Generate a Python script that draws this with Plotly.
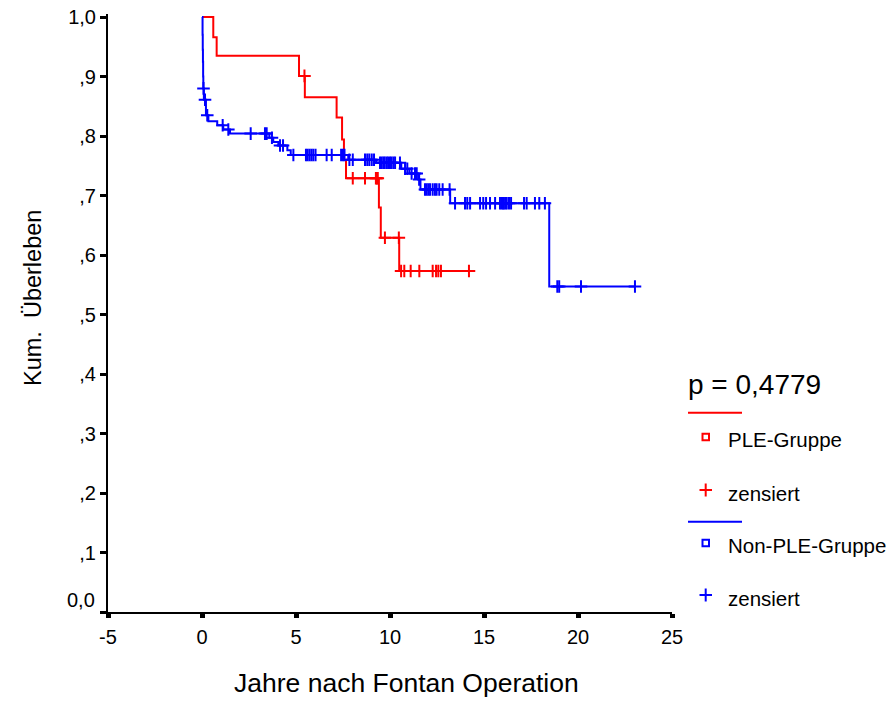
import numpy as np
import plotly.graph_objects as go

# ---------------- data ----------------
# PLE-Gruppe: Kaplan-Meier step function (time in years, cumulative survival)
ple_times = [0.0, 0.60, 0.78, 5.16, 5.47, 7.16, 7.45, 7.55, 7.66, 9.41, 9.51, 10.49]
ple_surv = [1.0, 0.966, 0.935, 0.901, 0.865, 0.831, 0.794, 0.760, 0.729, 0.680, 0.629, 0.573]
ple_censored = [5.45, 8.02, 8.67, 9.25, 9.30, 9.35, 9.73, 10.47, 10.59, 10.76, 11.10,
                11.56, 12.27, 12.45, 12.57, 12.71, 14.20]

# Non-PLE-Gruppe
non_times = [0.0, 0.03, 0.04, 0.05, 0.06, 0.07, 0.10, 0.21, 0.34, 0.81, 1.13, 1.49,
             3.58, 3.79, 4.06, 4.54, 4.72, 7.78, 9.26, 10.60, 11.03, 11.50, 11.62,
             13.20, 18.47]
non_surv = [1.0, 0.970, 0.945, 0.925, 0.900, 0.880, 0.861, 0.835, 0.825, 0.818, 0.811,
            0.804, 0.797, 0.790, 0.784, 0.776, 0.768, 0.760, 0.755, 0.745, 0.737, 0.727,
            0.710, 0.687, 0.547]
non_censored = [0.08, 0.16, 0.28, 1.10, 1.40, 2.59, 3.35, 3.44, 3.72, 4.15, 4.31, 4.86,
                5.53, 5.62, 5.72, 5.82, 5.92, 6.04, 6.63, 6.90, 7.40, 7.50, 7.58, 7.84,
                8.02, 8.67, 8.79, 8.90, 9.03, 9.15, 9.47, 9.56, 9.65, 9.72, 9.82, 9.90,
                10.00, 10.08, 10.18, 10.27, 10.53, 10.80, 10.92, 11.15, 11.33, 11.42,
                11.55, 11.86, 11.95, 12.04, 12.13, 12.27, 12.39, 12.48, 12.62, 12.80,
                13.17, 13.46, 13.99, 14.11, 14.26, 14.79, 14.96, 15.11, 15.32, 15.59,
                15.85, 15.94, 16.00, 16.06, 16.14, 16.21, 16.33, 16.44, 17.13, 17.27,
                17.71, 17.94, 18.24, 18.90, 19.00, 20.16, 23.03]

x_ticks = [-5, 0, 5, 10, 15, 20, 25]
y_ticks = [0.0, 0.1, 0.2, 0.3, 0.4, 0.5, 0.6, 0.7, 0.8, 0.9, 1.0]
y_ticktext = ["", ",1", ",2", ",3", ",4", ",5", ",6", ",7", ",8", ",9", "1,0"]
p_text = "p = 0,4779"
group_names = ["PLE-Gruppe", "Non-PLE-Gruppe"]
censor_name = "zensiert"
x_title = "Jahre nach Fontan Operation"
y_title = "Kum.  Überleben"

# ---------------- figure ----------------
FONT = "Liberation Sans, Arial, Helvetica, sans-serif"
RED = "#ff0000"
BLUE = "#0000ff"

W, H = 891, 715
ML, MR, MT, MB = 108, 219, 14, 103
PW, PH = W - ML - MR, H - MT - MB
Y_UNIT = 595.0                       # pixels per 1.0 of survival
Y_TOP = PH / Y_UNIT                  # small headroom so the y=1 line is not clipped


def px(x):  # page pixel -> paper x
    return (x - ML) / PW


def py(y):  # page pixel -> paper y
    return (H - MB - y) / PH


def step_xy(times, surv, censored):
    xs = list(times) + [max(censored)]
    ys = list(surv) + [surv[-1]]
    return xs, ys


def censor_levels(times, surv, censored):
    t = np.asarray(times)
    s = np.asarray(surv)
    idx = np.searchsorted(t, np.asarray(censored), side="right") - 1
    return s[idx].tolist()


fig = go.Figure()

for times, surv, cens, color in [(ple_times, ple_surv, ple_censored, RED),
                                 (non_times, non_surv, non_censored, BLUE)]:
    xs, ys = step_xy(times, surv, cens)
    fig.add_trace(go.Scatter(x=xs, y=ys, mode="lines",
                             line=dict(color=color, width=2, shape="hv"),
                             cliponaxis=False, showlegend=False, hoverinfo="skip"))
    fig.add_trace(go.Scatter(x=cens, y=censor_levels(times, surv, cens), mode="markers",
                             marker=dict(symbol="cross-thin", size=9,
                                         line=dict(color=color, width=2)),
                             cliponaxis=False, showlegend=False, hoverinfo="skip"))

axis_common = dict(showline=True, linecolor="black", linewidth=2, showgrid=False,
                   zeroline=False, ticks="outside", tickcolor="black", automargin=False,
                   ticklabeloverflow="allow",
                   tickfont=dict(family=FONT, size=20, color="black"))

fig.update_xaxes(range=[-5, 25], tickvals=x_ticks, ticktext=[str(v) for v in x_ticks],
                 ticklen=4, tickwidth=5, ticklabelstandoff=2, **axis_common)
fig.update_yaxes(range=[0, Y_TOP], tickvals=y_ticks, ticktext=y_ticktext,
                 ticklen=6, tickwidth=3, **axis_common)

shapes = []
annotations = []


def text_at(x, y, text, size, xanchor="left", angle=0):
    annotations.append(dict(x=px(x), y=py(y), xref="paper", yref="paper", text=text,
                            showarrow=False, xanchor=xanchor, yanchor="middle",
                            textangle=angle, borderpad=0,
                            font=dict(family=FONT, size=size, color="black")))


# 0,0 tick label drawn slightly above the corner like the original
text_at(96, 600, "0,0", 20, xanchor="right")
# axis titles
text_at(406, 683, x_title, 26.5, xanchor="center")
text_at(33, 298, y_title, 23.5, xanchor="center", angle=-90)

# custom legend
text_at(687, 385, p_text, 28)
legend_rows = [(412.7, 437, 439, 490, 493.3, RED, group_names[0]),
               (521.7, 543, 545, 595, 598.3, BLUE, group_names[1])]
for ly, sq_y, name_y, cy, cz_y, color, name in legend_rows:
    shapes.append(dict(type="line", xref="paper", yref="paper",
                       x0=px(688), x1=px(742), y0=py(ly), y1=py(ly),
                       line=dict(color=color, width=2)))
    shapes.append(dict(type="rect", xref="paper", yref="paper",
                       x0=px(702.5), x1=px(709), y0=py(sq_y + 3.2), y1=py(sq_y - 3.2),
                       line=dict(color=color, width=2), fillcolor="white"))
    text_at(727, name_y, name, 20.5)
    shapes.append(dict(type="line", xref="paper", yref="paper",
                       x0=px(699.5), x1=px(712), y0=py(cy), y1=py(cy),
                       line=dict(color=color, width=2)))
    shapes.append(dict(type="line", xref="paper", yref="paper",
                       x0=px(705.7), x1=px(705.7), y0=py(cy - 6.5), y1=py(cy + 6.5),
                       line=dict(color=color, width=2)))
    text_at(727, cz_y, censor_name, 20.5)

fig.update_layout(width=W, height=H,
                  margin=dict(l=ML, r=MR, t=MT, b=MB, pad=0),
                  paper_bgcolor="white", plot_bgcolor="white",
                  showlegend=False, shapes=shapes, annotations=annotations,
                  font=dict(family=FONT, color="black"))

# remove the default 8px page margin so the figure sits at the window's top-left corner
fig.write_html("out.html",
               config={"displayModeBar": False, "staticPlot": True},
               post_script="document.body.style.margin='0px';document.body.style.overflow='hidden';")
